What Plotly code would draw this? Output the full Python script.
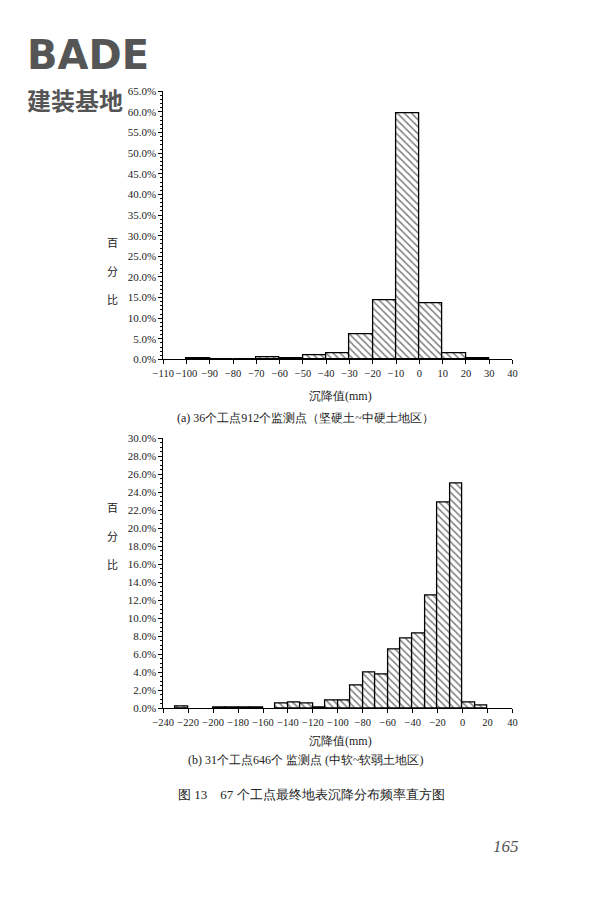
import plotly.graph_objects as go

a_left = [-100, -90, -80, -70, -60, -50, -40, -30, -20, -10, 0, 10, 20]
a_pct = [0.3, 0.0, 0.1, 0.6, 0.2, 1.1, 1.5, 6.2, 14.3, 59.6, 13.6, 1.4, 0.3]
b_left = [-230, -200, -190, -180, -170, -150, -140, -130, -120, -110, -100, -90, -80,
          -70, -60, -50, -40, -30, -20, -10, 0, 10]
b_pct = [0.2, 0.15, 0.15, 0.15, 0.15, 0.6, 0.7, 0.6, 0.15, 0.9, 0.9, 2.6, 4.0,
         3.8, 6.6, 7.8, 8.3, 12.6, 22.9, 25.0, 0.7, 0.3]
a_ticks = list(range(-110, 41, 10))
b_ticks = list(range(-240, 41, 20))

F = "Liberation Serif"
fig = go.Figure()
pat = dict(shape="\\", fgcolor="black", bgcolor="white", size=5, solidity=0.3)
fig.add_bar(x=[l + 5 for l in a_left], y=a_pct, width=10, xaxis="x", yaxis="y",
            marker=dict(color="white", line=dict(color="black", width=1.3), pattern=pat))
fig.add_bar(x=[l + 5 for l in b_left], y=b_pct, width=10, xaxis="x2", yaxis="y2",
            marker=dict(color="white", line=dict(color="black", width=1.3), pattern=pat))

ax = dict(showline=True, linecolor="black", ticks="outside", ticklen=4, tickcolor="black",
          showgrid=False, zeroline=False, tickfont=dict(family=F, size=11, color="#222"),
          minor=dict(ticks="outside", ticklen=2, tickcolor="black"))
fig.update_layout(
    width=600, height=900, margin=dict(l=0, r=0, t=0, b=0),
    paper_bgcolor="white", plot_bgcolor="white", showlegend=False, bargap=0,
    font=dict(family=F, color="#222"),
    xaxis=dict(ax, domain=[0.247, 0.845], anchor="y", range=[-110, 40], tickvals=a_ticks,
               tickangle=0, ticktext=[str(t).replace("-", "−") for t in a_ticks]),
    yaxis=dict(ax, domain=[0.611, 0.913], anchor="x", range=[0, 65], dtick=5,
               tickformat=".1f", ticksuffix="%"),
    xaxis2=dict(ax, domain=[0.247, 0.845], anchor="y2", range=[-240, 40], tickvals=b_ticks,
                tickangle=0, ticktext=[str(t).replace("-", "−") for t in b_ticks]),
    yaxis2=dict(ax, domain=[0.218, 0.522], anchor="x2", range=[0, 30], dtick=2,
                tickformat=".1f", ticksuffix="%"),
)
fig.update_xaxes(tickfont_size=10.5)
def txt(x, y, s, size=12, **kw):
    fig.add_annotation(x=x, y=y, xref="paper", yref="paper", text=s, showarrow=False,
                       font=dict(family=kw.pop("family", F), size=size, color=kw.pop("color", "#222")), **kw)
for yy in (0.755, 0.413):
    txt(0.148, yy, "百<br><br>分<br><br>比", 11, family="Noto Sans CJK SC")
txt(0.55, 0.57, "沉降值(mm)", 12)
txt(0.49, 0.545, "(a) 36个工点912个监测点（坚硬土~中硬土地区）", 12)
txt(0.55, 0.171, "沉降值(mm)", 12)
txt(0.49, 0.150, "(b) 31个工点646个 监测点 (中软~软弱土地区)", 12)
txt(0.5, 0.11, "图 13　67 个工点最终地表沉降分布频率直方图", 13)
txt(0.86, 0.049, "<i>165</i>", 17, color="#555")
txt(0.01, 0.982, "<b>BADE</b>", 40, family="DejaVu Sans", color="#555", xanchor="left")
txt(0.01, 0.926, "<b>建装基地</b>", 24, family="Noto Sans CJK SC", color="#555", xanchor="left")
fig.write_html("out.html")
